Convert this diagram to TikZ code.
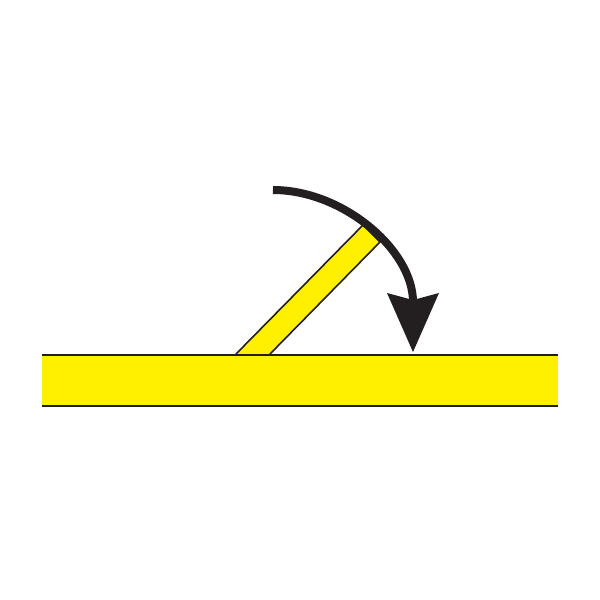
\documentclass[tikz,border=0pt]{standalone}
\definecolor{ylw}{RGB}{255,240,0}
\definecolor{blk}{RGB}{35,31,32}
\tikzset{
  barfill/.style={fill=ylw},
  edge/.style={draw=blk,line width=2pt},
  stripline/.style={draw=blk,line width=1.6pt,fill=ylw,line join=miter},
  arcline/.style={draw=blk,line width=8pt},
  headfill/.style={fill=blk}
}
\begin{document}
\begin{tikzpicture}[x=1pt,y=-1pt]
\useasboundingbox (0,0) rectangle (600,600);
% strip
\draw[stripline] (236,354) -- (363,225) -- (380,242) -- (270,354);
% bar
\fill[barfill] (42,355) rectangle (558,406);
\draw[edge] (42,355) -- (558,355);
\draw[edge] (42,406) -- (558,406);
% arrow arc
\coordinate (s) at (273,190);
\coordinate (e) at (413,302);
\draw[arcline] (s) .. controls (343,190) and (413,250) .. (e);
% arrowhead
\fill[headfill] (387,293) -- (413,300) -- (439,293) -- (413,352) -- cycle;
\end{tikzpicture}
\end{document}
